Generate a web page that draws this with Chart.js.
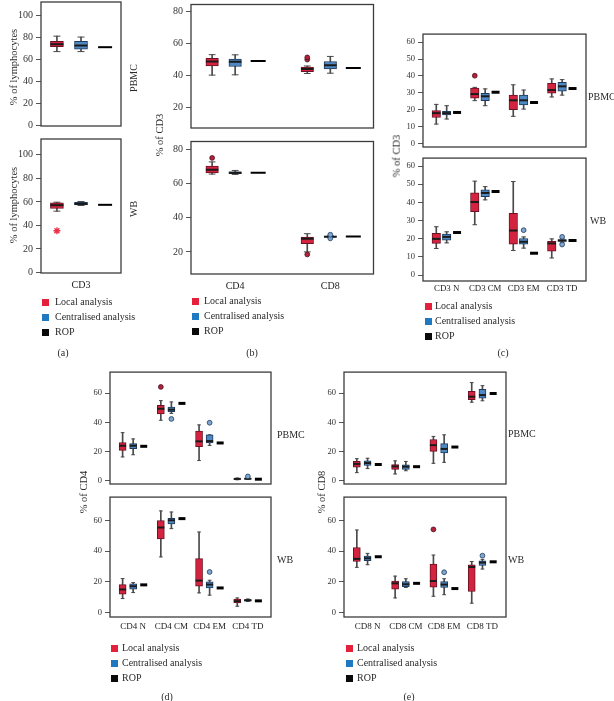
<!DOCTYPE html>
<html><head><meta charset="utf-8">
<script src="https://cdn.jsdelivr.net/npm/chart.js@4.4.0/dist/chart.umd.min.js"></script>
<style>
html,body{margin:0;padding:0;background:#fff}
#fig{position:relative;width:614px;height:701px;overflow:hidden;font-family:"Liberation Serif","DejaVu Serif",serif;color:#2a2a2a}
#fig canvas{position:absolute}
.lbl{position:absolute;white-space:nowrap;line-height:1}
.sq{position:absolute;width:7px;height:7px}
</style></head><body><div id="fig"></div>
<script>
// ---------- data: each box = [min, q1, median, q3, max] ----------
// (a)
const catsA = ['CD3'];
const ticksA = [0, 20, 40, 60, 80, 100];
const localA_PBMC = [[67, 71.5, 73.7, 76.3, 81]];
const centralA_PBMC = [[67, 69.3, 72.5, 76.3, 80.2]];
const ropA_PBMC = [71];
const localA_WB = [[52.1, 54.4, 57.2, 59.2, 59.7]];
const localA_WB_out = [[35.5]];
const centralA_WB = [[56.9, 57.5, 58.3, 59.7, 60.3]];
const ropA_WB = [57.5];
// (b)
const catsB = ['CD4', 'CD8'];
const ticksB = [20, 40, 60, 80];
const localB_PBMC = [[40.3, 46.1, 48.8, 50.8, 53.1], [41.3, 42.5, 44.2, 45.4, 46]];
const localB_PBMC_out = [[], [50, 51.4]];
const centralB_PBMC = [[40.5, 45.7, 48.6, 50.4, 53], [41.5, 44.2, 46.5, 48.8, 52]];
const ropB_PBMC = [49.2, 44.7];
const localB_WB = [[65.4, 66, 67.9, 70, 72.5], [20, 24.8, 27.7, 28.7, 30.6]];
const localB_WB_out = [[74.8], [18.5]];
const centralB_WB = [[65.2, 65.6, 66.2, 66.7, 67.5], [28.5, 28.6, 28.9, 29.2, 29.4]];
const centralB_WB_out = [[], [27.9, 30]];
const ropB_WB = [66.2, 29];
// (c)
const catsC = ['CD3 N', 'CD3 CM', 'CD3 EM', 'CD3 TD'];
const ticksC = [0, 10, 20, 30, 40, 50, 60];
const localC_PBMC = [[11.4, 15.3, 17.9, 19.4, 23.1], [25.3, 26.8, 29.2, 32.7, 33.2], [16, 19.9, 25.5, 28.6, 34.7], [27.5, 29.7, 31.6, 35.6, 38.2]];
const localC_PBMC_out = [[], [40.1], [], []];
const centralC_PBMC = [[14.4, 16.8, 17.9, 19, 22.3], [22.3, 25.3, 27.9, 29.7, 32.3], [20.3, 22.7, 25.5, 28.6, 31.6], [28.6, 31, 33.8, 36.2, 37.8]];
const ropC_PBMC = [18.3, 30.3, 24.2, 32.5];
const localC_WB = [[14.6, 17.4, 19.9, 22.9, 26.6], [27.7, 34.9, 40.2, 45.2, 51.7], [13.5, 17, 24.5, 34, 51.5], [9.4, 13.1, 17.4, 18.6, 19.9]];
const centralC_WB = [[17.7, 19.2, 21, 22.5, 23.8], [41.4, 43.2, 45.2, 46.9, 48.7], [14.8, 17, 18.3, 20.1, 21], [18, 18.5, 19, 19.5, 20]];
const centralC_WB_out = [[], [], [24.7], [21, 16.8]];
const ropC_WB = [23.4, 46, 12, 19];
// (d)
const catsD = ['CD4 N', 'CD4 CM', 'CD4 EM', 'CD4 TD'];
const ticksDE = [0, 20, 40, 60];
const localD_PBMC = [[16.2, 20.7, 23.9, 26, 32.9], [41.4, 45.8, 49.3, 51.7, 54.9], [13.7, 23.3, 26.9, 34, 38.2], [0.5, 0.8, 1.1, 1.4, 1.7]];
const localD_PBMC_out = [[], [64.3], [], []];
const centralD_PBMC = [[17.7, 21.8, 23.9, 25.4, 28.6], [46.1, 47.3, 48.7, 50.5, 54], [24.1, 25.8, 27.1, 31.4, 31.4], [0.8, 1, 1.2, 1.4, 1.6]];
const centralD_PBMC_out = [[], [42.3], [39.7], [2.8]];
const ropD_PBMC = [23.5, 53, 25.8, 0.9];
const localD_WB = [[9.1, 11.9, 15, 18.2, 22.1], [36.2, 47.9, 55.3, 59.8, 66.1], [12.8, 17.1, 20.8, 35.1, 52.4], [4.1, 6.3, 7.4, 8.7, 9.5]];
const centralD_WB = [[13, 15.2, 17.1, 18.6, 19.5], [54.6, 57.6, 60, 61.3, 65.4], [11.3, 16, 18.2, 19.9, 21], [7.2, 7.4, 8, 8.5, 8.8]];
const centralD_WB_out = [[], [], [26.4], []];
const ropD_WB = [18, 61.1, 16, 7.6];
// (e)
const catsE = ['CD8 N', 'CD8 CM', 'CD8 EM', 'CD8 TD'];
const localE_PBMC = [[5.4, 9.2, 11.4, 13.1, 15], [4.5, 7.7, 9.7, 11, 13.5], [11.8, 20, 24.3, 28.2, 30.3], [53.8, 55.5, 57.6, 61.3, 67.3]];
const centralE_PBMC = [[8.2, 10.3, 12, 13.5, 15.3], [6.7, 7.7, 9.5, 10.8, 13.1], [12.5, 18.9, 21.7, 25.4, 31.4], [54.8, 56.6, 58.7, 62.6, 65.2]];
const ropE_PBMC = [11, 9.5, 23, 59.8];
const localE_WB = [[29.4, 33.2, 34.9, 42.3, 53.7], [9.5, 15.2, 19, 20.5, 23.7], [10.6, 16.5, 20.5, 31.5, 37.4], [6.1, 13.7, 29.6, 31.1, 33.2]];
const localE_WB_out = [[], [], [54.1], []];
const centralE_WB = [[31.1, 33.8, 35.3, 36.8, 38.5], [16.3, 16.9, 18.4, 20.1, 22], [11.6, 16.3, 18.2, 20.1, 22], [28.3, 30.6, 32.5, 33.6, 34.6]];
const centralE_WB_out = [[], [], [26.2], [37]];
const ropE_WB = [36.3, 19, 15.6, 33];

const legendLabels = ['Local analysis', 'Centralised analysis', 'ROP'];
const legendColors = ['#e5203a', '#1f79c1', '#0a0a0a'];

// ---------- styles ----------
const FONT = '"Liberation Serif", "DejaVu Serif", serif';
Chart.defaults.font.family = FONT;
const LOCAL = {fill: '#d4233f', edge: '#6b1224', outFill: '#b3213b', outEdge: '#4a0d18'};
const CENTRAL = {fill: '#4f89c4', edge: '#1e3a5c', outFill: '#7ea6cf', outEdge: '#1e3a5c'};
const WHISK = '#4a4a4a';
const fig = document.getElementById('fig');

const framePlugin = {
  id: 'frame',
  afterDatasetsDraw(chart) {
    const {ctx, chartArea: a} = chart;
    ctx.save();
    ctx.strokeStyle = '#3c3c3c';
    ctx.lineWidth = 1.3;
    ctx.strokeRect(a.left, a.top, a.right - a.left, a.bottom - a.top);
    ctx.restore();
  }
};

function seriesSets(boxes, outl, o, st, p, outStyle) {
  const ds = [];
  ds.push({type: 'bar', data: boxes.map((b, i) => ({x: i + o, y: [b[0], b[4]]})),
    backgroundColor: WHISK, borderWidth: 0, barThickness: 1, grouped: false, order: 6});
  const caps = [];
  boxes.forEach((b, i) => { caps.push({x: i + o, y: b[0]}); caps.push({x: i + o, y: b[4]}); });
  ds.push({type: 'scatter', data: caps, pointStyle: 'line', pointRadius: p.bw * 0.27,
    pointBorderColor: WHISK, pointBorderWidth: 1, order: 5});
  ds.push({type: 'bar', data: boxes.map((b, i) => ({x: i + o, y: [b[1], b[3]]})),
    backgroundColor: st.fill, borderColor: st.edge, borderWidth: 1, borderSkipped: false,
    barThickness: p.bw, grouped: false, order: 4});
  ds.push({type: 'scatter', data: boxes.map((b, i) => ({x: i + o, y: b[2]})), pointStyle: 'line',
    pointRadius: p.bw / 2, pointBorderColor: '#1a1a1a', pointBorderWidth: 2, order: 3});
  if (outl) {
    const pts = [];
    outl.forEach((l, i) => l.forEach(v => pts.push({x: i + o, y: v})));
    if (outStyle === 'star') {
      ds.push({type: 'scatter', data: pts, pointStyle: 'star', pointRadius: 3.5,
        pointBorderColor: '#e8304a', pointBorderWidth: 1.3, order: 2});
    } else {
      ds.push({type: 'scatter', data: pts, pointStyle: 'circle', pointRadius: 2.4,
        pointBackgroundColor: st.outFill, pointBorderColor: st.outEdge, pointBorderWidth: 0.8, order: 2});
    }
  }
  return ds;
}

function makeSub(p, s) {
  const L = 48, R = 6, T = 8, B = s.showX ? 26 : 8;
  const w = (p.r - p.l) + L + R, h = (s.b - s.t) + T + B;
  const c = document.createElement('canvas');
  c.width = w; c.height = h;
  c.style.left = (p.l - L) + 'px'; c.style.top = (s.t - T) + 'px';
  c.style.width = w + 'px'; c.style.height = h + 'px';
  fig.appendChild(c);
  let datasets = [];
  datasets = datasets.concat(seriesSets(s.local, s.localOut, p.off[0], LOCAL, p, p.star));
  datasets = datasets.concat(seriesSets(s.central, s.centralOut, p.off[1], CENTRAL, p));
  datasets.push({type: 'scatter', data: s.rop.map((v, i) => ({x: i + p.off[2], y: v})), pointStyle: 'line',
    pointRadius: p.ropLen / 2, pointBorderColor: '#000', pointBorderWidth: p.ropW, order: 1});
  new Chart(c, {
    type: 'bar',
    data: {datasets},
    options: {
      responsive: false, animation: false, devicePixelRatio: 1,
      layout: {padding: {left: 0, right: R, top: T, bottom: s.showX ? 0 : B}},
      plugins: {legend: {display: false}, tooltip: {enabled: false}},
      scales: {
        x: {type: 'linear', min: p.xr[0], max: p.xr[1], offset: false, display: s.showX,
          grid: {display: false, drawTicks: false, offset: false}, border: {display: false},
          afterBuildTicks: sc => { sc.ticks = p.cats.map((_, i) => ({value: i})); },
          afterFit: sc => { sc.height = B; },
          ticks: {autoSkip: false, maxRotation: 0, minRotation: 0, padding: p.xPad, color: '#222',
            font: {size: p.xFont, family: FONT}, callback: v => p.cats[Math.round(v)]}},
        y: {type: 'linear', min: s.y[0], max: s.y[1],
          afterBuildTicks: sc => { sc.ticks = p.yTicks.map(v => ({value: v})); },
          afterFit: sc => { sc.width = L; },
          grid: {drawOnChartArea: false, drawTicks: true, tickLength: 5, color: '#555'},
          border: {display: false},
          ticks: {padding: 3, color: '#333', font: {size: p.tickSize, family: FONT}}}
      }
    },
    plugins: [framePlugin]
  });
}

const panels = [
  {cats: catsA, yTicks: ticksA, l: 41, r: 124, xr: [-0.5, 0.5], off: [-0.301, 0, 0.301], bw: 13, ropLen: 14, ropW: 2, tickSize: 10, xFont: 10, xPad: 6, star: 'star',
   subs: [
     {t: 1, b: 134, y: [-0.5, 112], local: localA_PBMC, central: centralA_PBMC, rop: ropA_PBMC, showX: false},
     {t: 138, b: 273, y: [-0.4, 113.4], local: localA_WB, localOut: localA_WB_out, central: centralA_WB, rop: ropA_WB, showX: true}]},
  {cats: catsB, yTicks: ticksB, l: 191, r: 377, xr: [-0.464, 1.454], off: [-0.242, 0, 0.242], bw: 12.5, ropLen: 15, ropW: 2, tickSize: 10, xFont: 10, xPad: 6,
   subs: [
     {t: 3, b: 136, y: [7.2, 84.5], local: localB_PBMC, localOut: localB_PBMC_out, central: centralB_PBMC, rop: ropB_PBMC, showX: false},
     {t: 140, b: 274, y: [7.1, 84.4], local: localB_WB, localOut: localB_WB_out, central: centralB_WB, centralOut: centralB_WB_out, rop: ropB_WB, showX: true}]},
  {cats: catsC, yTicks: ticksC, l: 423, r: 587, xr: [-0.615, 3.62], off: [-0.27, 0, 0.27], bw: 8.5, ropLen: 8, ropW: 3, tickSize: 8.5, xFont: 8.8, xPad: 2,
   subs: [
     {t: 34, b: 155, y: [-2.2, 64.8], local: localC_PBMC, localOut: localC_PBMC_out, central: centralC_PBMC, rop: ropC_PBMC, showX: false},
     {t: 158, b: 281, y: [-3.3, 64.4], local: localC_WB, central: centralC_WB, centralOut: centralC_WB_out, rop: ropC_WB, showX: true}]},
  {cats: catsD, yTicks: ticksDE, l: 110, r: 272, xr: [-0.606, 3.606], off: [-0.276, 0, 0.276], bw: 7, ropLen: 7, ropW: 3, tickSize: 8.5, xFont: 9, xPad: 4,
   subs: [
     {t: 372, b: 492, y: [-2.4, 74.5], local: localD_PBMC, localOut: localD_PBMC_out, central: centralD_PBMC, centralOut: centralD_PBMC_out, rop: ropD_PBMC, showX: false},
     {t: 497, b: 617, y: [-2.9, 75.1], local: localD_WB, central: centralD_WB, centralOut: centralD_WB_out, rop: ropD_WB, showX: true}]},
  {cats: catsE, yTicks: ticksDE, l: 344, r: 507, xr: [-0.615, 3.615], off: [-0.28, 0, 0.28], bw: 7, ropLen: 7, ropW: 3, tickSize: 8.5, xFont: 9, xPad: 4,
   subs: [
     {t: 372, b: 492, y: [-2.4, 74.5], local: localE_PBMC, central: centralE_PBMC, rop: ropE_PBMC, showX: false},
     {t: 497, b: 617, y: [-2.9, 75.1], local: localE_WB, localOut: localE_WB_out, central: centralE_WB, centralOut: centralE_WB_out, rop: ropE_WB, showX: true}]}
];
panels.forEach(p => p.subs.forEach(s => makeSub(p, s)));

// ---------- texts ----------
function addText(str, x, y, size, rot, align) {
  const d = document.createElement('div');
  d.className = 'lbl';
  d.textContent = str;
  d.style.fontSize = size + 'px';
  d.style.left = x + 'px'; d.style.top = y + 'px';
  if (align === 'left') d.style.transform = 'translate(0,-50%)';
  else d.style.transform = 'translate(-50%,-50%)' + (rot ? ' rotate(-90deg)' : '');
  fig.appendChild(d);
}
// axis titles
addText('% of lymphocytes', 14, 67, 10.5, true);
addText('% of lymphocytes', 14, 205, 10.5, true);
addText('% of CD3', 160, 135, 10.5, true);
addText('% of CD3', 397, 156, 10.5, true);
addText('% of CD4', 84, 492, 10.5, true);
addText('% of CD8', 322, 492, 10.5, true);
// facet labels
addText('PBMC', 134, 78, 10, true);
addText('WB', 134, 209, 10, true);
addText('PBMC', 588, 97, 10, false, 'left');
addText('WB', 590, 221, 10, false, 'left');
addText('PBMC', 277, 435, 10, false, 'left');
addText('WB', 277, 560, 10, false, 'left');
addText('PBMC', 508, 434, 10, false, 'left');
addText('WB', 508, 560, 10, false, 'left');
// legends
const legendPos = [
  {sx: 42, tx: 55, ys: [302, 317, 332]},
  {sx: 192, tx: 204, ys: [301, 316, 331]},
  {sx: 425, tx: 435, ys: [306, 321, 336]},
  {sx: 111, tx: 122, ys: [648, 663, 678]},
  {sx: 346, tx: 357, ys: [648, 663, 678]}
];
legendPos.forEach(lp => {
  legendLabels.forEach((lab, i) => {
    const q = document.createElement('div');
    q.className = 'sq';
    q.style.background = legendColors[i];
    q.style.left = lp.sx + 'px'; q.style.top = (lp.ys[i] - 3.5) + 'px';
    fig.appendChild(q);
    addText(lab, lp.tx, lp.ys[i], 10, false, 'left');
  });
});
// panel letters
addText('(a)', 63, 353, 10);
addText('(b)', 252, 353, 10);
addText('(c)', 503, 353, 10);
addText('(d)', 167, 697, 10);
addText('(e)', 409, 697, 10);
</script></body></html>
